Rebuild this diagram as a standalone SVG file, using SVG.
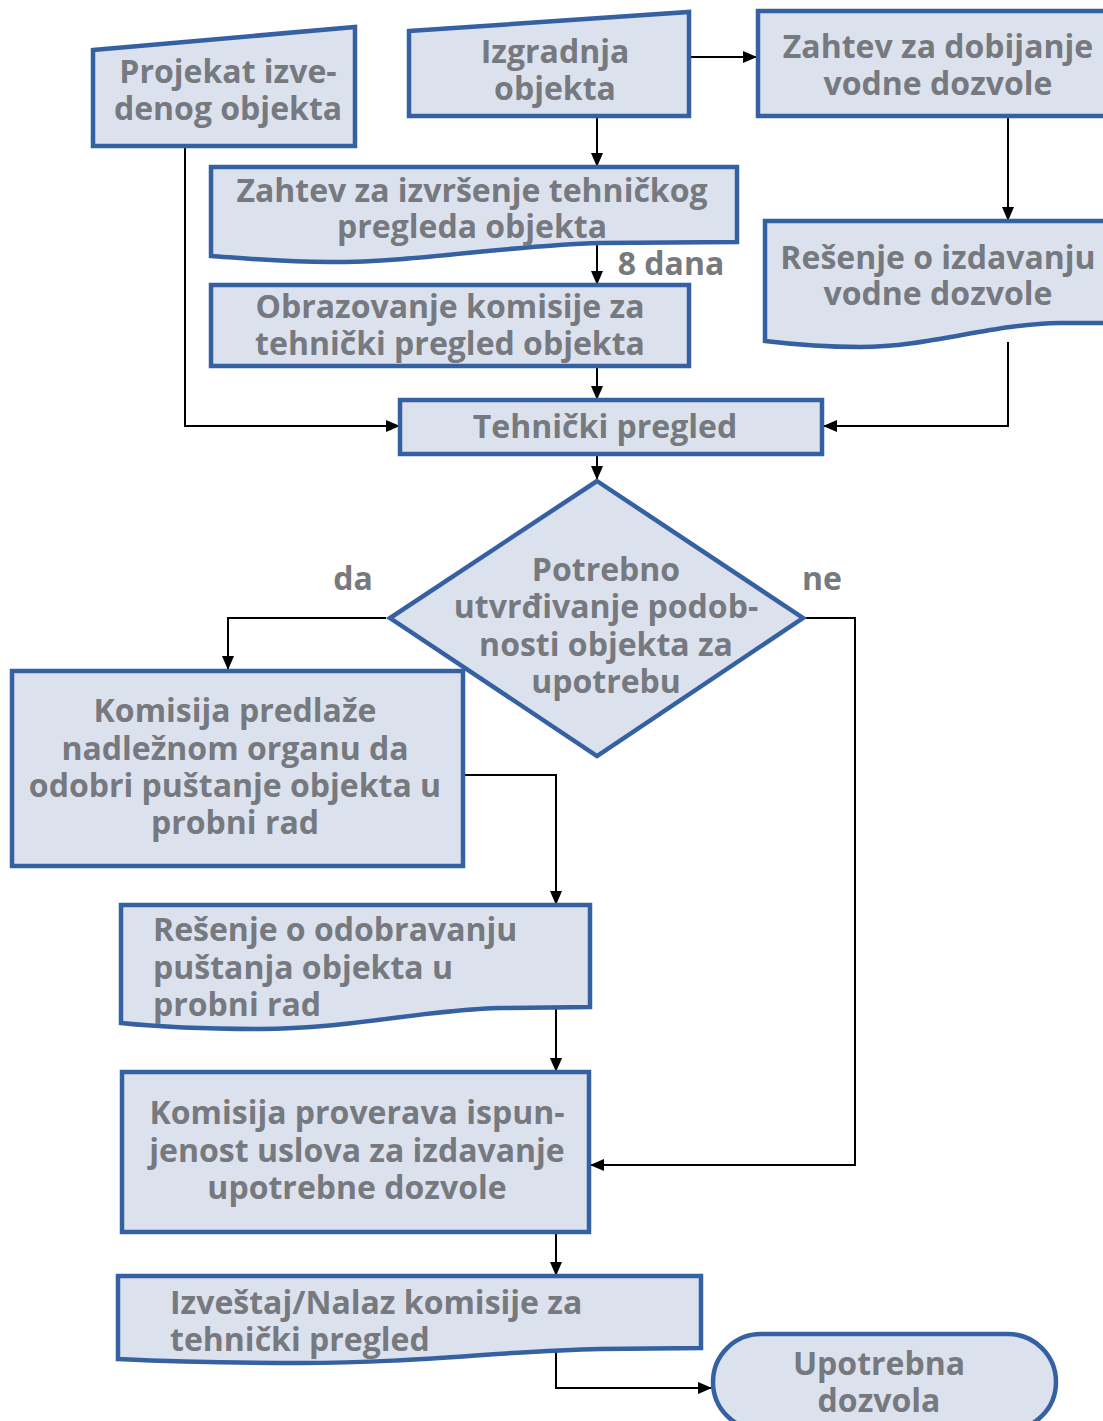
<svg xmlns="http://www.w3.org/2000/svg" width="1103" height="1421" viewBox="0 0 1103 1421">
<style>
.s{fill:#dce1ee;stroke:#3560a2;stroke-width:4.5;stroke-linejoin:miter}
.t{font-family:"Open Sans","Noto Sans",sans-serif;font-weight:700;font-size:32px;fill:#76797e;text-anchor:middle}
.l{text-anchor:start}
.c{fill:none;stroke:#000;stroke-width:2}
</style>
<defs>
<marker id="a" markerWidth="14" markerHeight="12" refX="13" refY="6" orient="auto" markerUnits="userSpaceOnUse">
<path d="M0,0 L14,6 L0,12 Z" fill="#000"/>
</marker>
</defs>
<rect width="1103" height="1421" fill="#fff"/>
<g id="connectors">
<path class="c" d="M689,57 H756" marker-end="url(#a)"/>
<path class="c" d="M597,118 V166" marker-end="url(#a)"/>
<path class="c" d="M1008,116 V220" marker-end="url(#a)"/>
<path class="c" d="M597,244 V284" marker-end="url(#a)"/>
<path class="c" d="M597,366 V399" marker-end="url(#a)"/>
<path class="c" d="M185,146 V426 H399" marker-end="url(#a)"/>
<path class="c" d="M1008,342 V426 H824" marker-end="url(#a)"/>
<path class="c" d="M597,454 V479" marker-end="url(#a)"/>
<path class="c" d="M386,618 H228 V669" marker-end="url(#a)"/>
<path class="c" d="M803,618 H855 V1165 H591" marker-end="url(#a)"/>
<path class="c" d="M463,775 H556 V904" marker-end="url(#a)"/>
<path class="c" d="M556,1008 V1071" marker-end="url(#a)"/>
<path class="c" d="M556,1232 V1275" marker-end="url(#a)"/>
<path class="c" d="M556,1348 V1388 H711" marker-end="url(#a)"/>
<text class="t" x="671" y="275">8 dana</text>
<text class="t" x="353" y="590">da</text>
<text class="t" x="822" y="590">ne</text>
</g>
<g id="projekat">
<path class="s" d="M93,50 L355,27 V146 H93 Z"/>
<text class="t" x="228" y="83">Projekat izve-</text>
<text class="t" x="228" y="120">denog objekta</text>
</g>
<g id="izgradnja">
<path class="s" d="M409,31 L689,12 V116 H409 Z"/>
<text class="t" x="555" y="63">Izgradnja</text>
<text class="t" x="555" y="100">objekta</text>
</g>
<g id="zahtev-vodna">
<rect class="s" x="758" y="11" width="360" height="105"/>
<text class="t" x="938" y="58">Zahtev za dobijanje</text>
<text class="t" x="938" y="95">vodne dozvole</text>
</g>
<g id="zahtev-tehnicki">
<path class="s" d="M211,167 H737 V242 L600,243 C500,246 420,262 330,262 C280,262 240,258 211,256 Z"/>
<text class="t" x="472" y="202">Zahtev za izvršenje tehničkog</text>
<text class="t" x="472" y="238">pregleda objekta</text>
</g>
<g id="resenje-vodna">
<path class="s" d="M765,221 H1118 V323 L1060,323 C990,324 930,347 860,347 C820,347 790,344 765,341 Z"/>
<text class="t" x="938" y="269">Rešenje o izdavanju</text>
<text class="t" x="938" y="305">vodne dozvole</text>
</g>
<g id="obrazovanje">
<rect class="s" x="211" y="285" width="478" height="81"/>
<text class="t" x="450" y="318">Obrazovanje komisije za</text>
<text class="t" x="450" y="355">tehnički pregled objekta</text>
</g>
<g id="tehnicki-pregled">
<rect class="s" x="400" y="400" width="422" height="54"/>
<text class="t" x="605" y="438">Tehnički pregled</text>
</g>
<g id="odluka">
<path class="s" d="M597,481 L803,618 L597,756 L390,618 Z"/>
<text class="t" x="606" y="581">Potrebno</text>
<text class="t" x="606" y="618">utvrđivanje podob-</text>
<text class="t" x="606" y="656">nosti objekta za</text>
<text class="t" x="606" y="693">upotrebu</text>
</g>
<g id="komisija-predlaze">
<rect class="s" x="12" y="671" width="451" height="195"/>
<text class="t" x="235" y="722">Komisija predlaže</text>
<text class="t" x="235" y="760">nadležnom organu da</text>
<text class="t" x="235" y="797">odobri puštanje objekta u</text>
<text class="t" x="235" y="834">probni rad</text>
</g>
<g id="resenje-probni">
<path class="s" d="M121,905 H590 V1007 L500,1008 C420,1010 350,1029 260,1029 C200,1029 150,1026 121,1023 Z"/>
<text class="t l" x="153" y="941">Rešenje o odobravanju</text>
<text class="t l" x="153" y="979">puštanja objekta u</text>
<text class="t l" x="153" y="1016">probni rad</text>
</g>
<g id="komisija-proverava">
<rect class="s" x="122" y="1072" width="467" height="160"/>
<text class="t" x="357" y="1124">Komisija proverava ispun-</text>
<text class="t" x="357" y="1162">jenost uslova za izdavanje</text>
<text class="t" x="357" y="1199">upotrebne dozvole</text>
</g>
<g id="izvestaj">
<path class="s" d="M118,1276 H701 V1348 L600,1349 C500,1351 420,1363 300,1363 C220,1363 160,1361 118,1359 Z"/>
<text class="t l" x="170" y="1314">Izveštaj/Nalaz komisije za</text>
<text class="t l" x="170" y="1351">tehnički pregled</text>
</g>
<g id="upotrebna">
<rect class="s" x="713" y="1334" width="343" height="96" rx="48" ry="48"/>
<text class="t" x="879" y="1375">Upotrebna</text>
<text class="t" x="879" y="1412">dozvola</text>
</g>
</svg>
